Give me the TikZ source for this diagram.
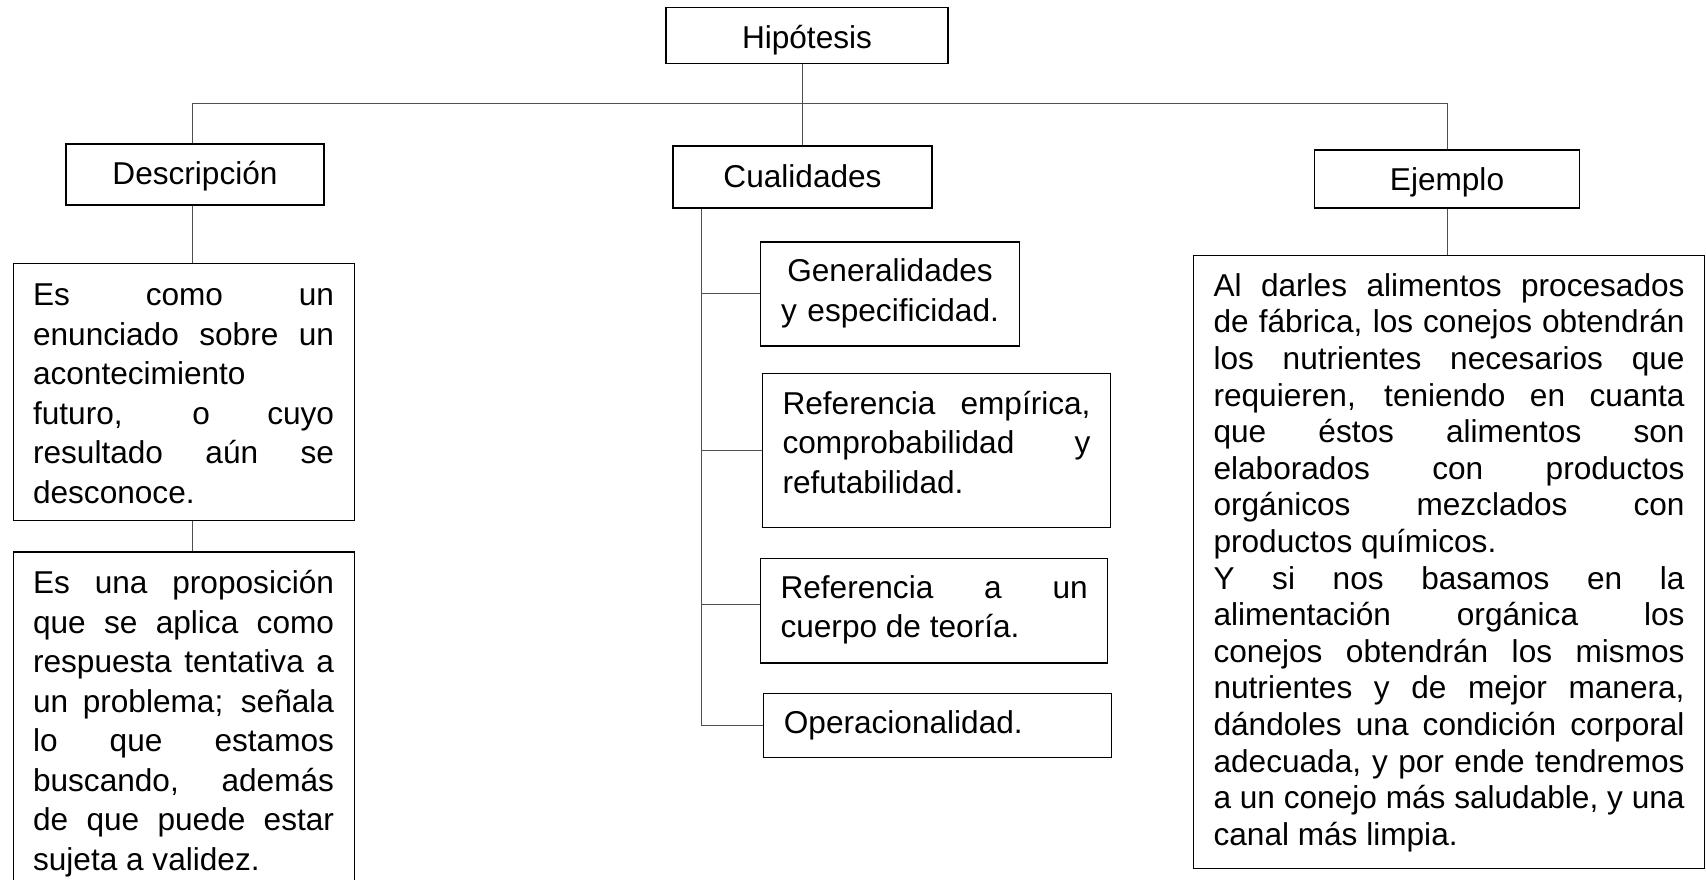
\documentclass[tikz,border=0pt]{standalone}
\usepackage{fontspec}
\setmainfont{Liberation Sans}
\usepackage{xcolor}
\definecolor{linegray}{RGB}{80,80,80}
\setlength{\parindent}{0pt}
\tolerance=10000
\hbadness=10000
\hyphenpenalty=10000
\newcommand{\topgap}[1]{\rule{0pt}{#1}}
\newcommand{\botgap}[1]{\rule[-#1]{0pt}{0pt}}

\begin{document}
\begin{tikzpicture}[x=1pt,y=-1pt]
        \tikzset{headbox/.style={draw,line width=1.1pt,inner sep=0pt,
                font=\fontsize{31.6}{39.5}\selectfont,text height=20pt,text depth=0pt},
            textbox/.style={draw,line width=1.1pt,anchor=north west,
                inner xsep=20pt,inner ysep=0pt,align=justify,
                font=\fontsize{31.6}{39.5}\selectfont},
            conn/.style={draw=linegray,line width=1pt}}
        \useasboundingbox (0,0) rectangle (1706,880);
        \clip (0,0) rectangle (1706,880);
        % titulos
        \node[headbox,minimum width=282pt,minimum height=56pt,text height=26pt] (hip) at (807,35.3) {Hipótesis};
        \node[headbox,minimum width=258pt,minimum height=61pt] (desc) at (195,174.5) {Descripción};
        \node[headbox,minimum width=259pt,minimum height=62pt] (cual) at (802.5,177) {Cualidades};
        \node[headbox,minimum width=264.5pt,minimum height=58pt,text height=22pt] (ejem) at (1447,179) {Ejemplo};
        % descripcion
        \node[textbox,text width=301pt] (desc1) at (12.5,263.3)
            {\topgap{42pt}Es como un\linebreak enunciado sobre un\linebreak acontecimiento\\
             futuro, o cuyo\linebreak resultado aún se\linebreak desconoce.\botgap{16.8pt}};
        \node[textbox,text width=301pt] (desc2) at (12.5,551.4)
            {\topgap{42pt}Es una proposición\linebreak que se aplica como\linebreak
             respuesta tentativa a\linebreak un problema; señala\linebreak lo que estamos\linebreak
             buscando, además\linebreak de que puede estar\linebreak sujeta a validez.\botgap{30pt}};
        % cualidades
        \node[textbox,text width=219pt,align=center] (gen) at (760,241.4)
            {\topgap{40pt}Generalidades\\ y especificidad.\botgap{24.5pt}};
        \node[textbox,text width=308pt] (refemp) at (762,372.8)
            {\topgap{40.7pt}Referencia empírica,\linebreak comprobabilidad y\linebreak
             refutabilidad.\botgap{34.5pt}};
        \node[textbox,text width=307.3pt] (refteo) at (760,558)
            {\topgap{39.7pt}Referencia a un\linebreak cuerpo de teoría.\botgap{25.2pt}};
        \node[textbox,text width=308pt,align=left] (opera) at (763.3,693)
            {\topgap{39.7pt}Operacionalidad.\botgap{24.1pt}};
        % ejemplo
        \node[textbox,text width=471pt,font=\fontsize{31.6}{36.6}\selectfont] (ejtxt) at (1193,254.5)
            {\topgap{41.3pt}Al darles alimentos procesados\linebreak de fábrica, los conejos obtendrán\linebreak
             los nutrientes necesarios que\linebreak requieren, teniendo en cuanta\linebreak
             que éstos alimentos son\linebreak elaborados con productos\linebreak
             orgánicos mezclados con\linebreak productos químicos.\\
             Y si nos basamos en la\linebreak alimentación orgánica los\linebreak
             conejos obtendrán los mismos\linebreak nutrientes y de mejor manera,\linebreak
             dándoles una condición corporal\linebreak adecuada, y por ende tendremos\linebreak
             a un conejo más saludable, y una\linebreak canal más limpia.\botgap{22.7pt}};
        % lineas
        \coordinate (bar) at (801,104);
        \coordinate (trunk) at (701.3,726);
        \draw[conn] (cual.north |- hip.south) -- (cual.north);
        \draw[conn] ([xshift=-3pt]desc.north) -- ([xshift=-3pt]desc.north |- bar)
            -- (ejem.north |- bar) -- (ejem.north);
        \draw[conn] ([xshift=-3pt]desc.south) -- ([xshift=-3pt]desc.south |- desc1.north);
        \draw[conn] ([xshift=-3pt]desc.south |- desc1.south) -- ([xshift=-3pt]desc.south |- desc2.north);
        \draw[conn] (ejem.south) -- (ejem.south |- ejtxt.north);
        \draw[conn] (cual.south -| trunk) -- (trunk);
        \foreach \b in {gen,refemp,opera}
            \draw[conn] (\b.west -| trunk) -- (\b.west);
        \draw[conn] ([yshift=6pt]refteo.west -| trunk) -- ([yshift=6pt]refteo.west);
    \end{tikzpicture}
\end{document}
